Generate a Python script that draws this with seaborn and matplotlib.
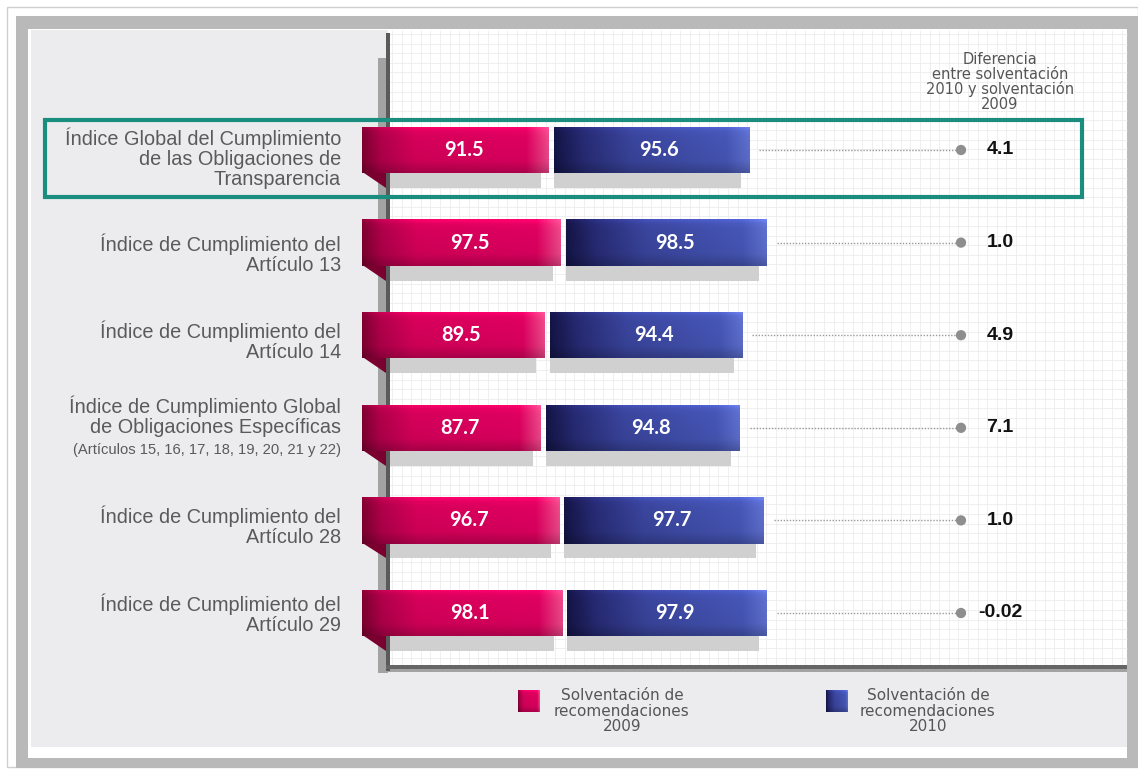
import numpy as np
import matplotlib
matplotlib.use("Agg")
import matplotlib.pyplot as plt
import seaborn as sns
from matplotlib.patches import Rectangle, Polygon
from matplotlib.collections import LineCollection
from matplotlib.transforms import Affine2D
from matplotlib.colors import to_rgb

# ---- data -------------------------------------------------------------
indices = [
    "Índice Global del Cumplimiento\nde las Obligaciones de\nTransparencia",
    "Índice de Cumplimiento del\nArtículo 13",
    "Índice de Cumplimiento del\nArtículo 14",
    "Índice de Cumplimiento Global\nde Obligaciones Específicas",
    "Índice de Cumplimiento del\nArtículo 28",
    "Índice de Cumplimiento del\nArtículo 29",
]
note_row4 = "(Artículos 15, 16, 17, 18, 19, 20, 21 y 22)"
sol_2009 = [91.5, 97.5, 89.5, 87.7, 96.7, 98.1]
sol_2010 = [95.6, 98.5, 94.4, 94.8, 97.7, 97.9]
value_labels_2009 = ["91.5", "97.5", "89.5", "87.7", "96.7", "98.1"]
value_labels_2010 = ["95.6", "98.5", "94.4", "94.8", "97.7", "97.9"]
diferencia = ["4.1", "1.0", "4.9", "7.1", "1.0", "-0.02"]
diff_header = "Diferencia\nentre solventación\n2010 y solventación\n2009"
legend_2009 = "Solventación de\nrecomendaciones\n2009"
legend_2010 = "Solventación de\nrecomendaciones\n2010"

# ---- style ------------------------------------------------------------
sns.set_theme(style="white")
plt.rcParams["font.family"] = ["Liberation Sans", "DejaVu Sans"]

W, H = 1138, 772
fig = plt.figure(figsize=(W / 100, H / 100), dpi=100)
fig.patch.set_facecolor("white")
ax = fig.add_axes([0, 0, 1, 1])
ax.set_facecolor("none")

# pixel transform (origin top-left) for the frame decorations
T = Affine2D().scale(1 / W, -1 / H).translate(0, 1) + fig.transFigure

PX_PER_UNIT = 2.04
X0_PX = 362
ROW0_PX, ROW_STEP = 150, 92.6
xlim = (-X0_PX / PX_PER_UNIT, (W - X0_PX) / PX_PER_UNIT)
ylim = ((H - ROW0_PX) / ROW_STEP, -ROW0_PX / ROW_STEP)


def px_x(p):
    return (p - X0_PX) / PX_PER_UNIT


def px_y(p):
    return (p - ROW0_PX) / ROW_STEP


def prect(x, y, w, h, **kw):
    r = Rectangle((x, y), w, h, transform=T, clip_on=False, **kw)
    ax.add_patch(r)
    return r


# ---- frame and panels -------------------------------------------------
prect(7, 7, 1131, 760, facecolor="none", edgecolor="#cfcfcf", lw=1, zorder=0)
prect(16, 16, 1122, 752, facecolor="#b9b9b9", edgecolor="none", zorder=0.1)
prect(28, 29, 1099, 729, facecolor="white", edgecolor="none", zorder=0.2)
prect(31, 30, 1096, 717, facecolor="#ececee", edgecolor="none", zorder=0.3)

# white gridded plot panel
prect(388, 30, 739, 636, facecolor="white", edgecolor="none", zorder=0.4)
gx = np.arange(392, 1127, 9.6)
gy = np.arange(34, 666, 9.6)
segs = [[(x, 30), (x, 666)] for x in gx] + [[(388, y), (1127, y)] for y in gy]
ax.add_collection(LineCollection(segs, colors="#ececec", linewidths=0.6,
                                 transform=T, zorder=0.5, clip_on=False))
# axis rails
prect(378, 58, 10, 615, facecolor="#a3a3a3", edgecolor="none", zorder=0.6)
prect(386, 33, 4, 638, facecolor="#5a5a5a", edgecolor="none", zorder=0.7)
prect(380, 665, 747, 7, facecolor="#a3a3a3", edgecolor="none", zorder=0.6)
prect(386, 665, 741, 4, facecolor="#666666", edgecolor="none", zorder=0.7)

# ---- bars -------------------------------------------------------------
BAR_H = 0.5
GAP = 2.5
rows = np.arange(len(indices))
left_2010 = np.array(sol_2009) + GAP

# drop shadows under each bar
for i in rows:
    ax.add_patch(Rectangle((px_x(390), i + 0.15), sol_2009[i] - px_x(390) - 4, 0.26,
                           facecolor="#d0d0d0", edgecolor="none", zorder=1))
    ax.add_patch(Rectangle((left_2010[i], i + 0.15), sol_2010[i] - 4, 0.26,
                           facecolor="#d0d0d0", edgecolor="none", zorder=1))

sns.barplot(x=sol_2009, y=[s.replace("\n", " ") for s in indices], orient="h",
            color="#dc005e", width=BAR_H, ax=ax, zorder=2, linewidth=0)
pink_bars = list(ax.patches)[-len(rows):]
blue_bars = ax.barh(rows, sol_2010, left=left_2010, height=BAR_H,
                    color="#3e4aa3", linewidth=0, zorder=2)


def gradient(stops, n=240, m=24):
    pos = np.array([p for p, _ in stops])
    cols = np.array([to_rgb(c) for _, c in stops])
    xs = np.linspace(0, 1, n)
    row = np.stack([np.interp(xs, pos, cols[:, k]) for k in range(3)], axis=-1)
    ys = np.linspace(0, 1, m)
    shade = np.interp(ys, [0, 0.08, 0.2, 0.75, 1.0], [1.18, 1.05, 1.0, 0.95, 0.78])
    img = row[None, :, :] * shade[:, None, None]
    return np.clip(img, 0, 1)


pink_img = gradient([(0, "#7e0030"), (0.1, "#b0004a"), (0.28, "#d6005a"),
                     (0.88, "#df0060"), (1.0, "#ee4a8a")])
blue_img = gradient([(0, "#141446"), (0.15, "#272b74"), (0.4, "#3a459d"),
                     (0.88, "#4656b6"), (1.0, "#5f70cf")])

for patch, img in [(p, pink_img) for p in pink_bars] + [(p, blue_img) for p in blue_bars]:
    x0, y0 = patch.get_x(), patch.get_y()
    w, h = patch.get_width(), patch.get_height()
    im = ax.imshow(img, extent=(x0, x0 + w, y0 + h, y0), aspect="auto",
                   interpolation="bilinear", zorder=2.1)
    im.set_clip_path(patch)

# ribbon fold under the left end of each 2009 bar
for i in rows:
    fold = Polygon([(0.8, i + BAR_H / 2), (px_x(386), i + BAR_H / 2),
                    (px_x(386), i + 0.41)], closed=True,
                   facecolor="#7a0030", edgecolor="none", zorder=1.9)
    ax.add_patch(fold)

# value labels inside bars
for i in rows:
    ax.text(sol_2009[i] / 2 + 4, i, value_labels_2009[i], color="white",
            fontsize=14.5, fontweight="bold", family=["Lato", "DejaVu Sans"],
            ha="center", va="center", zorder=3)
    ax.text(left_2010[i] + sol_2010[i] / 2 + 4, i, value_labels_2010[i], color="white",
            fontsize=14.5, fontweight="bold", family=["Lato", "DejaVu Sans"],
            ha="center", va="center", zorder=3)

# ---- difference column ------------------------------------------------
DOT_X = px_x(961)
for i in rows:
    end = left_2010[i] + sol_2010[i]
    ax.plot([end + 5, DOT_X], [i, i], color="#9a9a9a", lw=1,
            linestyle=(0, (1, 1.2)), zorder=1.5)
    ax.scatter([DOT_X], [i], s=55, color="#8e8e8e", edgecolor="none", zorder=2)
    ax.text(px_x(1000), i, diferencia[i], color="#111111", fontsize=14,
            fontweight="bold", ha="center", va="center", zorder=3)

ax.text(px_x(1000), px_y(82), diff_header, color="#555555", fontsize=10.5,
        family=["DejaVu Sans"], ha="center", va="center", linespacing=0.95, zorder=3)

# ---- category labels --------------------------------------------------
label_offsets = [0.086, 0.13, 0.065, -0.124, 0.065, 0.01]
for i in rows:
    ax.text(px_x(341), i + label_offsets[i], indices[i], color="#5a5a5a",
            fontsize=14.3, ha="right", va="center", linespacing=1.08, zorder=3)
ax.text(px_x(341), px_y(450), note_row4, color="#5a5a5a", fontsize=10.6,
        ha="right", va="center", zorder=3)

# highlight box around the global index
prect(45, 120, 1037, 77, facecolor="none", edgecolor="#1b8d7e", lw=3, zorder=4)

# ---- legend -----------------------------------------------------------
for sq_x, text_x, img, txt in [(518, 622, pink_img, legend_2009),
                               (826, 928, blue_img, legend_2010)]:
    sq = prect(sq_x, 690, 22, 22, facecolor="#ffffff", edgecolor="none", zorder=3)
    im = ax.imshow(img, extent=(0, 1, 1, 0), aspect="auto", zorder=3.1,
                   transform=Affine2D().scale(22, 22).translate(sq_x, 690) + T)
    im.set_clip_path(sq)
    ax.text(text_x, 711, txt, transform=T, color="#555555", fontsize=11,
            family=["DejaVu Sans"], ha="center", va="center", linespacing=1.03,
            zorder=3)

ax.set_xlim(*xlim)
ax.set_ylim(*ylim)
ax.axis("off")

fig.savefig("out.png", dpi=100, facecolor="white")
